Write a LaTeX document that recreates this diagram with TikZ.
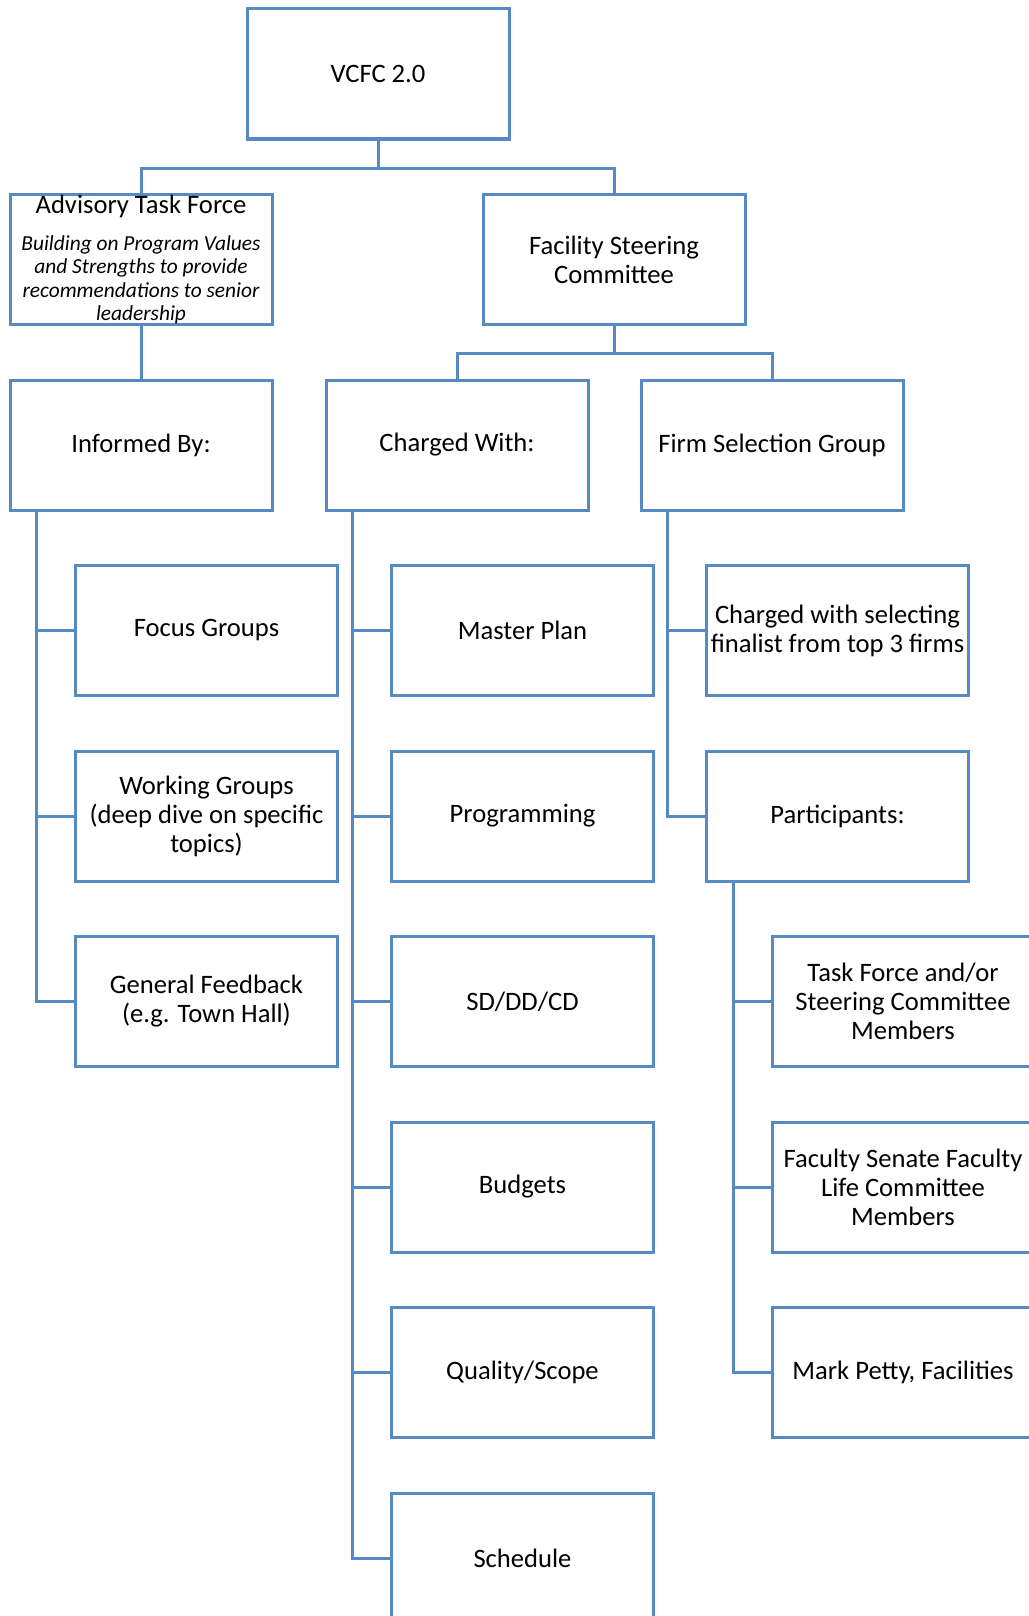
\documentclass[tikz,border=0pt]{standalone}
\usepackage{fontspec}
\setmainfont{Carlito}
\usepackage{xcolor}
\usepackage{tikz}
\usetikzlibrary{positioning}
\definecolor{boxblue}{RGB}{85,138,197}
\newcommand{\atfnote}[1]{{\fontsize{10.7}{11.7}\selectfont\itshape #1}}

\begin{document}
\begin{tikzpicture}[node distance=92.75pt, font=\fontsize{13.3}{14.5}\selectfont,
    block/.style={rectangle, draw=boxblue, line width=1.5pt, minimum width=131pt, minimum height=65pt, inner sep=0pt, align=center},
    line/.style={draw=boxblue, line width=1.5pt}]
  \useasboundingbox (0,0) rectangle (514pt,-808pt);
  % top levels
  \node[block] (V) at (189pt,-37pt) {VCFC 2.0};
  \node[block, below of=V, xshift=-118.5pt] (A) {Advisory Task Force\\[4pt]\atfnote{Building on Program Values}\\[-2.8pt]\atfnote{and Strengths to provide}\\[-2.8pt]\atfnote{recommendations to senior}\\[-2.8pt]\atfnote{leadership}};
  \node[block, below of=V, xshift=118pt] (F) {Facility Steering\\Committee};
  \node[block, below of=A] (I) {Informed By:};
  \node[block, below of=F, xshift=-78.5pt] (C) {Charged With:};
  \node[block, below of=F, xshift=79pt] (S) {Firm Selection Group};
  % informed by
  \node[block, below of=I, xshift=32.75pt] (I1) {Focus Groups};
  \node[block, below of=I1] (I2) {Working Groups\\(deep dive on specific\\topics)};
  \node[block, below of=I2] (I3) {General Feedback\\(e.g. Town Hall)};
  % charged with
  \node[block, below of=C, xshift=32.75pt] (C1) {Master Plan};
  \node[block, below of=C1] (C2) {Programming};
  \node[block, below of=C2] (C3) {SD/DD/CD};
  \node[block, below of=C3] (C4) {Budgets};
  \node[block, below of=C4] (C5) {Quality/Scope};
  \node[block, below of=C5] (C6) {Schedule};
  % firm selection
  \node[block, below of=S, xshift=32.75pt] (S1) {Charged with selecting\\finalist from top 3 firms};
  \node[block, below of=S1] (P) {Participants:};
  \node[block, below of=P, xshift=32.75pt] (P1) {Task Force and/or\\Steering Committee\\Members};
  \node[block, below of=P1] (P2) {Faculty Senate Faculty\\Life Committee\\Members};
  \node[block, below of=P2] (P3) {Mark Petty, Facilities};
  % connectors
  \draw[line] (V.south) -- ++(0,-14pt) -| (A.north);
  \draw[line] (V.south) -- ++(0,-14pt) -| (F.north);
  \draw[line] (A.south) -- (I.north);
  \draw[line] (F.south) -- ++(0,-13.75pt) -| (C.north);
  \draw[line] (F.south) -- ++(0,-13.75pt) -| (S.north);
  \foreach \n in {I1,I2,I3} \draw[line] ([xshift=14pt]I.south west) |- (\n.west);
  \foreach \n in {C1,C2,C3,C4,C5,C6} \draw[line] ([xshift=14pt]C.south west) |- (\n.west);
  \foreach \n in {S1,P} \draw[line] ([xshift=14pt]S.south west) |- (\n.west);
  \foreach \n in {P1,P2,P3} \draw[line] ([xshift=14pt]P.south west) |- (\n.west);
\end{tikzpicture}
\end{document}
